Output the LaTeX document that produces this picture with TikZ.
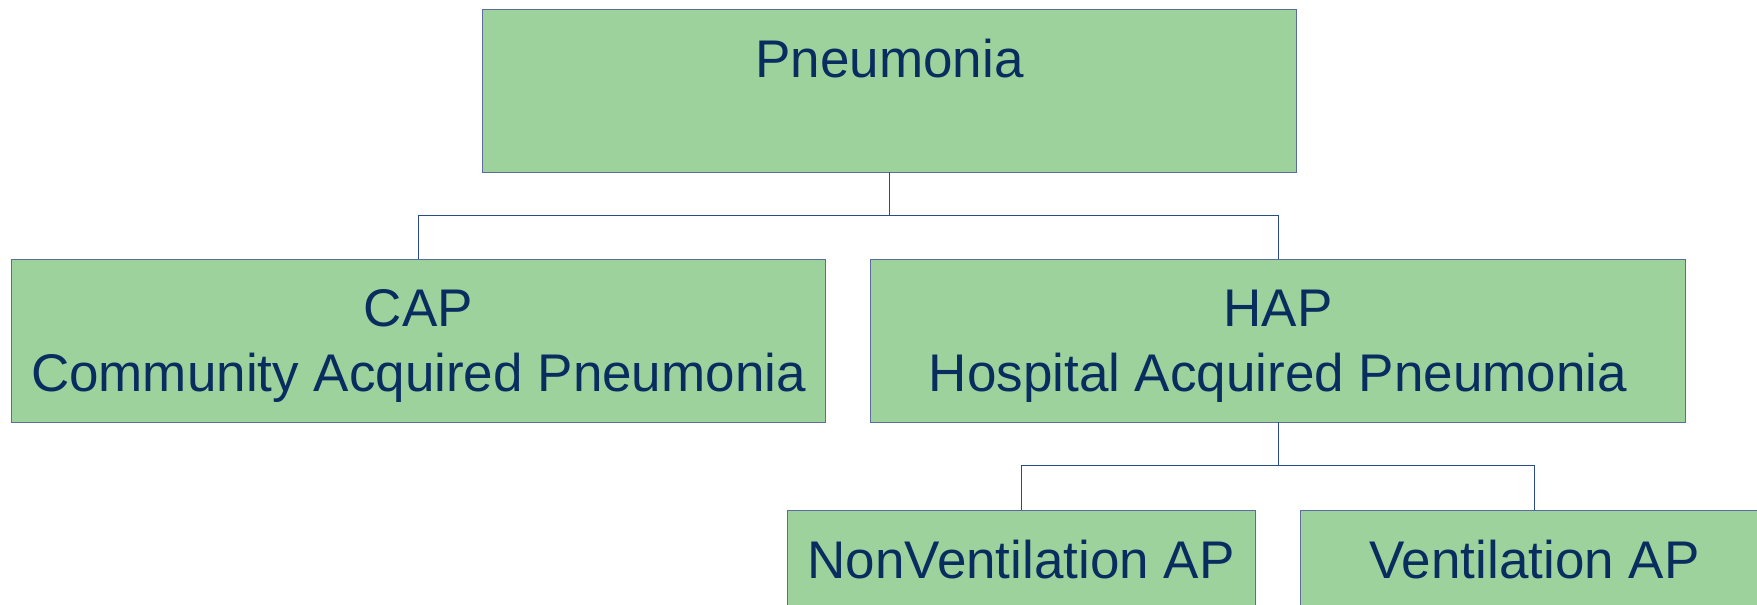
\documentclass[tikz,border=0pt]{standalone}
\usepackage{fontspec}
\setmainfont{Liberation Sans}
\usepackage{xcolor}
\usetikzlibrary{positioning, calc}

\definecolor{boxfill}{HTML}{9DD29D}
\definecolor{boxline}{HTML}{5B6CA0}
\definecolor{boxtext}{HTML}{0A2D5F}
\definecolor{linkline}{HTML}{2A4A8A}

\begin{document}
\begin{tikzpicture}[
    x=0.025cm, y=-0.025cm,
    block/.style={rectangle, draw=boxline, line width=0.6pt, fill=boxfill, text=boxtext,
        minimum width=20.35cm, minimum height=4.075cm, inner sep=0pt, align=center,
        text depth=0pt, font=\fontsize{37.7pt}{46pt}\selectfont},
    small/.style={block, minimum width=11.7cm},
    link/.style={draw=linkline, line width=0.7pt}
]
\useasboundingbox (0,0) rectangle (1757,605);

% Root
\node (pneu) [block] at (889.5,90.5) {Pneumonia\\\mbox{}};

% First level
\node (cap) [block] at (418.5,340.5) {CAP\\Community Acquired Pneumonia};
\node (hap) [block] at (1278,340.5) {HAP\\Hospital Acquired Pneumonia};

% Second level (cut at the bottom)
\node (nonvent) [small] at (1021,591.5) {NonVentilation AP\\\mbox{}};
\node (vent) [small] at (1534.5,591.5) {Ventilation AP\\\mbox{}};

% Links
\draw [link] (pneu.south) -- ++(0,43.5) -| (cap.north);
\draw [link] (pneu.south) -- ++(0,43.5) -| (hap.north);
\draw [link] (hap.south) -- ++(0,43.5) -| (nonvent.north);
\draw [link] (hap.south) -- ++(0,43.5) -| (vent.north);

\end{tikzpicture}
\end{document}
